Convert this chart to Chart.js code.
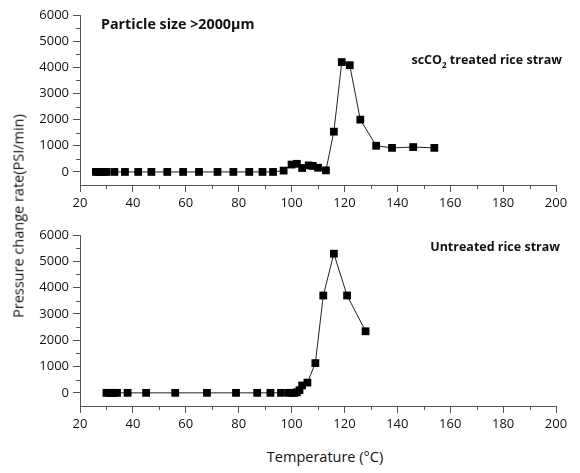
<!DOCTYPE html>
<html>
<head>
<meta charset="utf-8">
<script src="https://cdn.jsdelivr.net/npm/chart.js@4/dist/chart.umd.min.js"></script>
<style>
  body { margin: 0; background: #fff; }
  #wrap { position: relative; width: 580px; height: 473px; font-family: "Open Sans", sans-serif; color: #111; }
  canvas { position: absolute; left: 0; }
  .note { position: absolute; font-weight: bold; font-size: 12.5px; white-space: nowrap; }
  .title { position: absolute; font-size: 14.5px; white-space: nowrap; }
</style>
</head>
<body>
<div id="wrap">
  <canvas id="top" width="580" height="215" style="top:0"></canvas>
  <canvas id="bottom" width="580" height="216" style="top:220px"></canvas>
  <div class="note" style="left:101px; top:14px; font-size:14.3px;">Particle size &gt;2000&micro;m</div>
  <div class="note" style="right:18px; top:51px;">scCO<sub style="font-size:8px">2</sub> treated rice straw</div>
  <div class="note" style="right:20px; top:238px;">Untreated rice straw</div>
  <div class="title" style="left:18px; top:216px; transform: translate(-50%,-50%) rotate(-90deg);">Pressure change rate(PSI/min)</div>
  <div class="title" style="left:325px; top:456px; transform: translate(-50%,-50%);">Temperature (°C)</div>
</div>
<script>
// scCO2 treated rice straw
const tempTreated = [26, 27, 28, 29, 30, 33, 37, 42, 47, 53, 59, 65, 72, 78, 84, 89, 93,
  97, 100, 102, 104, 106.5, 108, 110, 113, 116, 119, 122, 126, 132, 138, 146, 154];
const rateTreated = [0, 0, 0, 0, 0, 0, 0, 0, 0, 0, 0, 0, 0, 0, 0, 0, 0,
  50, 280, 310, 150, 250, 230, 160, 60, 1540, 4200, 4080, 2000, 1000, 920, 950, 920];

// untreated rice straw
const tempUntreated = [30, 31, 32, 33, 34, 38, 45, 56, 68, 79, 87, 92, 96, 99, 100, 101,
  102, 103, 104, 106, 109, 112, 116, 121, 128];
const rateUntreated = [0, 0, 0, 0, 0, 0, 0, 0, 0, 0, 0, 0, 0, 0, 0, 0,
  20, 100, 280, 390, 1130, 3700, 5290, 3700, 2340];

// axis ticks
const xTickValues = [20, 40, 60, 80, 100, 120, 140, 160, 180, 200];
const yTickValues = [0, 1000, 2000, 3000, 4000, 5000, 6000];
const xMinorValues = [30, 50, 70, 90, 110, 130, 150, 170, 190];
const yMinorValues = [500, 1500, 2500, 3500, 4500, 5500];
const xMin = 20, xMax = 200;
const yMin = -500, yMax = 6000;

const toPoints = (xs, ys) => xs.map((x, i) => ({ x: x, y: ys[i] }));

// minor tick marks (shorter, unlabelled)
const minorTicks = {
  id: "minorTicks",
  afterDraw(chart) {
    const ctx = chart.ctx;
    const xs = chart.scales.x, ys = chart.scales.y;
    ctx.save();
    ctx.strokeStyle = "#555";
    ctx.lineWidth = 1;
    ctx.beginPath();
    xMinorValues.forEach((v) => {
      const px = Math.round(xs.getPixelForValue(v)) + 0.5;
      ctx.moveTo(px, ys.bottom);
      ctx.lineTo(px, ys.bottom + 4);
    });
    yMinorValues.forEach((v) => {
      const py = Math.round(ys.getPixelForValue(v)) + 0.5;
      ctx.moveTo(xs.left, py);
      ctx.lineTo(xs.left - 4, py);
    });
    ctx.stroke();
    ctx.restore();
  }
};

function makeChart(id, xs, ys) {
  const tickFont = { family: "Open Sans", size: 13 };
  return new Chart(document.getElementById(id), {
    type: "scatter",
    data: {
      datasets: [{
        data: toPoints(xs, ys),
        showLine: true,
        borderColor: "#222",
        borderWidth: 1,
        backgroundColor: "#000",
        pointStyle: "rect",
        pointRadius: 5.5,
        pointBorderWidth: 0,
        pointBackgroundColor: "#000"
      }]
    },
    options: {
      responsive: false,
      animation: false,
      layout: { padding: { top: 15, right: 24, left: 0, bottom: 0 } },
      plugins: { legend: { display: false }, tooltip: { enabled: false } },
      scales: {
        x: {
          type: "linear",
          min: xMin, max: xMax,
          afterBuildTicks: (s) => { s.ticks = xTickValues.map((v) => ({ value: v })); },
          afterFit: (s) => { s.height = 30; },
          ticks: { color: "#111", font: tickFont, padding: 3, maxRotation: 0, autoSkip: false,
            callback: (v) => String(v) },
          grid: { drawOnChartArea: false, drawTicks: true, tickLength: 7, color: "#555" },
          border: { display: true, color: "#555", width: 1 }
        },
        y: {
          type: "linear",
          min: yMin, max: yMax,
          afterBuildTicks: (s) => { s.ticks = yTickValues.map((v) => ({ value: v })); },
          afterFit: (s) => { s.width = 80; },
          ticks: { color: "#111", font: tickFont, padding: 4, autoSkip: false,
            callback: (v) => String(v) },
          grid: { drawOnChartArea: false, drawTicks: true, tickLength: 7, color: "#555" },
          border: { display: true, color: "#555", width: 1 }
        }
      }
    },
    plugins: [minorTicks]
  });
}

makeChart("top", tempTreated, rateTreated);
makeChart("bottom", tempUntreated, rateUntreated);
</script>
</body>
</html>
